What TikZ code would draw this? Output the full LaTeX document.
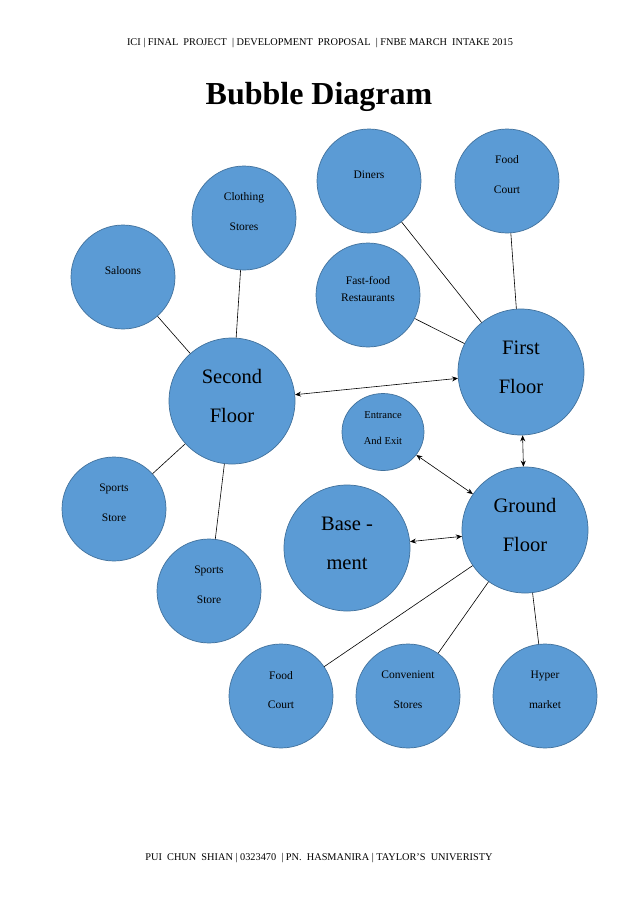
\documentclass[tikz,border=0pt]{standalone}
\usepackage{fontspec}
\setmainfont{Liberation Serif}
\usetikzlibrary{arrows.meta, shapes.geometric}
\definecolor{bubblefill}{HTML}{5B9BD5}
\definecolor{bubbleline}{HTML}{41719C}

\begin{document}
\begin{tikzpicture}[
    x=1pt, y=-1pt,
    bubble/.style={circle, draw=bubbleline, line width=0.7pt, fill=bubblefill, minimum size=104, align=center, text depth=12pt, font=\fontsize{11.5}{30}\selectfont},
    bigbubble/.style={bubble, minimum size=126, font=\fontsize{20.5}{39}\selectfont, text depth=10pt},
    link/.style={draw, line width=0.6pt},
    arrow/.style={{Stealth[length=6pt,width=5pt]}-{Stealth[length=6pt,width=5pt]}, line width=0.6pt}
]
\useasboundingbox (0,0) rectangle (638,903);

\node (header) at (320,43) {\fontsize{10.3}{12}\selectfont ICI | FINAL\ \ PROJECT\ \ | DEVELOPMENT\ \ PROPOSAL\ \ | FNBE MARCH\ \ INTAKE 2015};
\node[font=\fontsize{32}{36}\selectfont\bfseries] (title) at (319,97) {Bubble Diagram};
\node (footer) at (319,858) {\fontsize{10.3}{12}\selectfont PUI\ \ CHUN\ \ SHIAN | 0323470\ \ | PN.\ \ HASMANIRA | TAYLOR'S\ \ UNIVERISTY};

% main floors
\node[bigbubble] (second) at (232,401) {Second\\Floor};
\node[bigbubble] (first) at (521,372) {First\\Floor};
\node[bigbubble] (ground) at (525,530) {Ground\\Floor};
\node[bigbubble] (base) at (347,548) {Base -\\ment};
\node[bubble, ellipse, minimum width=82, minimum height=77, font=\fontsize{10.5}{26}\selectfont, text depth=8pt] (entrance) at (383,432) {Entrance\\And Exit};

% second floor shops
\node[bubble] (clothing) at (244,218) {Clothing\\Stores};
\node[bubble] (saloons) at (123,277) {Saloons};
\node[bubble] (sportsa) at (114,509) {Sports\\Store};
\node[bubble] (sportsb) at (209,591) {Sports\\Store};

% first floor shops
\node[bubble] (diners) at (369,181) {Diners};
\node[bubble] (foodtop) at (507,181) {Food\\Court};
\node[bubble, font=\fontsize{11.5}{17}\selectfont] (fastfood) at (368,295) {Fast-food\\Restaurants};

% ground floor shops
\node[bubble] (foodbot) at (281,696) {Food\\Court};
\node[bubble] (conv) at (408,696) {Convenient\\Stores};
\node[bubble] (hyper) at (545,696) {Hyper\\market};

\draw[link] (clothing) -- (second);
\draw[link] (saloons) -- (second);
\draw[link] (sportsa) -- (second);
\draw[link] (sportsb) -- (second);
\draw[link] (diners) -- (first);
\draw[link] (foodtop) -- (first);
\draw[link] (fastfood) -- (first);
\draw[link] (foodbot) -- (ground);
\draw[link] (conv) -- (ground);
\draw[link] (hyper) -- (ground);

\draw[arrow] (second) -- (first);
\draw[arrow] (first) -- (ground);
\draw[arrow] (entrance) -- (ground);
\draw[arrow] (base) -- (ground);
\end{tikzpicture}
\end{document}
